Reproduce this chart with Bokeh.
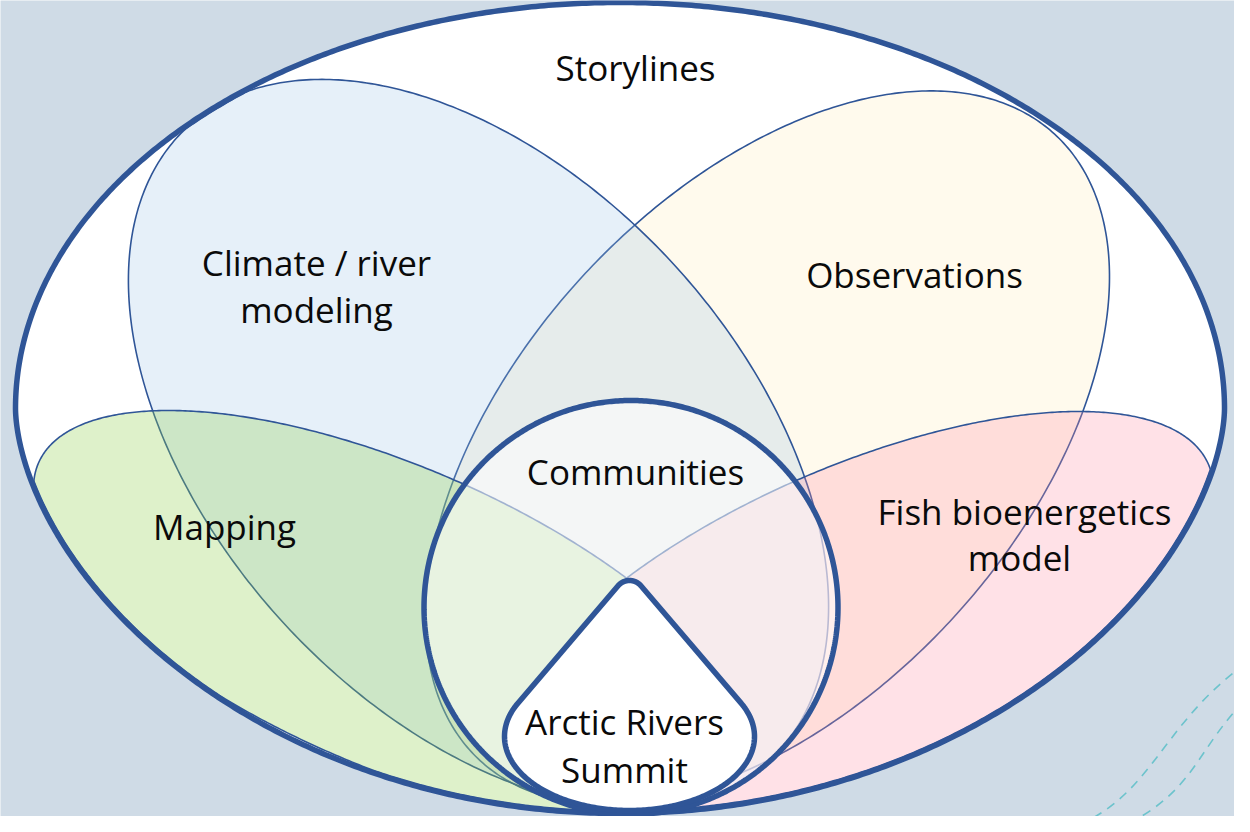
import numpy as np
from bokeh.plotting import figure
from bokeh.models import Range1d
from bokeh.embed import file_html
from bokeh.resources import INLINE
from bokeh.core.properties import value

# ---------------------------------------------------------------- data
BG = "#cfdbe6"
EDGE = "#2f5597"
FONT = "Open Sans"

# outer "Storylines" oval (pixel units, y grows downward)
outer_center = [627.5, 416.0]
outer_half_width = 604.5
outer_half_heights = [406.0, 405.0]      # top half, bottom half
outer_exponents = [1.0, 1.16]            # shape exponents (1 = ellipse)

# petals: drawn in this order
petal_names = ["Observations", "Climate / river modeling", "Mapping", "Fish bioenergetics model"]
petal_colors = ["#ffe699", "#9dc3e6", "#92d050", "#ff8fa8"]
petal_alphas = [0.18, 0.25, 0.30, 0.27]
petal_kinds = ["rotated", "rotated", "sheared", "sheared"]
# rotated: cx, cy, semi-major, semi-minor, angle(deg)
# sheared: cx, cy, half-width, centre-line slope, half vertical chord
petal_params = [
    [775, 455, 425, 252, 132.5],
    [486, 451, 430, 265, 47.5],
    [400, 624, 359, 0.358, 161],
    [866.5, 624, 354.5, -0.358, 161],
]
# sheared petals end in a point hidden under the summit drop
petal_cut_x = [None, None, 646.0, 628.0]
petal_keep = [None, None, "left", "right"]
petal_tip = [None, None, [640.0, 812.0], [634.0, 812.0]]

# inner circle "Communities"
circle_center = [638.5, 615.0]
circle_radius = 207.0
circle_white_alpha = 0.55

# drop "Arctic Rivers Summit": rounded tip + oval base
drop_tip = [637.0, 603.0, 15.0]
drop_base = [637.0, 744.0, 125.0, 74.0]

# labels
label_text = ["Storylines", "Climate / river", "modeling", "Observations", "Communities",
              "Mapping", "Fish bioenergetics", "model", "Arctic Rivers", "Summit"]
label_x = [643, 324, 324, 922, 643, 232, 1032, 1027, 632, 632]
label_y = [75, 270, 317, 282, 479, 534, 519, 565, 729, 777]

# decorative dashed curves (bottom right)
deco_x0 = [1072, 1122]
deco_y0 = [838, 838]
deco_cx0 = [1160, 1205]
deco_cy0 = [808, 800]
deco_cx1 = [1165, 1200]
deco_cy1 = [735, 760]
deco_x1 = [1252, 1256]
deco_y1 = [672, 704]


# ---------------------------------------------------------------- geometry
def outer_shape(n=900):
    cx, cy = outer_center
    t = np.linspace(0, 2 * np.pi, n, endpoint=False)
    s = np.sin(t)
    x = cx + outer_half_width * np.cos(t)
    y = np.where(s >= 0,
                 cy - outer_half_heights[0] * np.abs(s) ** outer_exponents[0],
                 cy + outer_half_heights[1] * np.abs(s) ** outer_exponents[1])
    return x, y


OX, OY = outer_shape()
_oang = np.arctan2(OY - outer_center[1], OX - outer_center[0])
_orad = np.hypot(OX - outer_center[0], OY - outer_center[1])
_ord = np.argsort(_oang)


def clamp_inside(x, y, inset=2.5):
    cx, cy = outer_center
    ang = np.arctan2(y - cy, x - cx)
    r = np.hypot(x - cx, y - cy)
    ro = np.interp(ang, _oang[_ord], _orad[_ord], period=2 * np.pi)
    f = np.minimum(1.0, (ro - inset) / np.maximum(r, 1e-9))
    return cx + (x - cx) * f, cy + (y - cy) * f


def petal_shape(kind, prm, cut=None, keep=None, tip=None, n=500):
    if kind == "rotated":
        t = np.linspace(0, 2 * np.pi, n, endpoint=False)
        cx, cy, A, B, ang = prm
        a = np.radians(ang)
        x = cx + A * np.cos(t) * np.cos(a) - B * np.sin(t) * np.sin(a)
        y = cy + A * np.cos(t) * np.sin(a) + B * np.sin(t) * np.cos(a)
    else:
        cx, cy, W, m, h = prm
        tc = np.arccos(np.clip((cut - cx) / W, -1, 1))
        if keep == "left":
            t = np.linspace(tc, 2 * np.pi - tc, n)
        else:
            t = np.linspace(-tc, tc, n)
        x = cx + W * np.cos(t)
        y = cy + m * W * np.cos(t) + h * np.sin(t)
        x = np.append(x, tip[0])
        y = np.append(y, tip[1])
    return clamp_inside(x, y)


def convex_hull(px, py):
    pts = sorted(set(zip(np.round(px, 3), np.round(py, 3))))

    def cross(o, a, b):
        return (a[0] - o[0]) * (b[1] - o[1]) - (a[1] - o[1]) * (b[0] - o[0])

    lower, upper = [], []
    for pnt in pts:
        while len(lower) >= 2 and cross(lower[-2], lower[-1], pnt) <= 0:
            lower.pop()
        lower.append(pnt)
    for pnt in reversed(pts):
        while len(upper) >= 2 and cross(upper[-2], upper[-1], pnt) <= 0:
            upper.pop()
        upper.append(pnt)
    hull = lower[:-1] + upper[:-1]
    return [h[0] for h in hull], [h[1] for h in hull]


def drop_shape(n=400):
    t = np.linspace(0, 2 * np.pi, n, endpoint=False)
    tx, ty, tr = drop_tip
    bx, by, brx, bry = drop_base
    px = np.concatenate([tx + tr * np.cos(t), bx + brx * np.cos(t)])
    py = np.concatenate([ty + tr * np.sin(t), by + bry * np.sin(t)])
    return convex_hull(px, py)


# ---------------------------------------------------------------- figure
p = figure(width=1234, height=816,
           x_range=Range1d(8, 1242), y_range=Range1d(824, 8),
           x_axis_type=None, y_axis_type=None,
           output_backend="svg", toolbar_location=None, min_border=0)
p.grid.visible = False
p.outline_line_color = None
p.background_fill_color = BG
p.border_fill_color = BG

# outer oval fill
p.patch(list(OX), list(OY), fill_color="white", line_color=None)

# petals
for kind, prm, col, alp, cut, keep, tip in zip(petal_kinds, petal_params, petal_colors,
                                                petal_alphas, petal_cut_x, petal_keep, petal_tip):
    x, y = petal_shape(kind, prm, cut, keep, tip)
    p.patch(list(x), list(y), fill_color=col, fill_alpha=alp,
            line_color=EDGE, line_width=1.6, line_join="round")

# outer oval outline
p.patch(list(OX), list(OY), fill_color=None, line_color=EDGE, line_width=5.5,
        line_join="round")

# communities circle
ct = np.linspace(0, 2 * np.pi, 600, endpoint=False)
p.patch(list(circle_center[0] + circle_radius * np.cos(ct)),
        list(circle_center[1] + circle_radius * np.sin(ct)),
        fill_color="white", fill_alpha=circle_white_alpha,
        line_color=EDGE, line_width=5.5)

# summit drop
dx, dy = drop_shape()
p.patch(dx, dy, fill_color="white", line_color=EDGE, line_width=5.5, line_join="round")

# decorative dashed curves
p.bezier(x0=deco_x0, y0=deco_y0, x1=deco_x1, y1=deco_y1,
         cx0=deco_cx0, cy0=deco_cy0, cx1=deco_cx1, cy1=deco_cy1,
         line_color="#6cc3cc", line_width=1.6, line_dash="9 7")

# labels
p.text(x=label_x, y=label_y, text=label_text,
       text_font=value(FONT), text_font_size="35px",
       text_align="center", text_baseline="alphabetic", text_color="#0a0a0a")

html = file_html(p, INLINE, title="Arctic Rivers Summit")
html = html.replace("<body>", '<body style="background:%s;">' % BG, 1)
open("out.html", "w").write(html)
